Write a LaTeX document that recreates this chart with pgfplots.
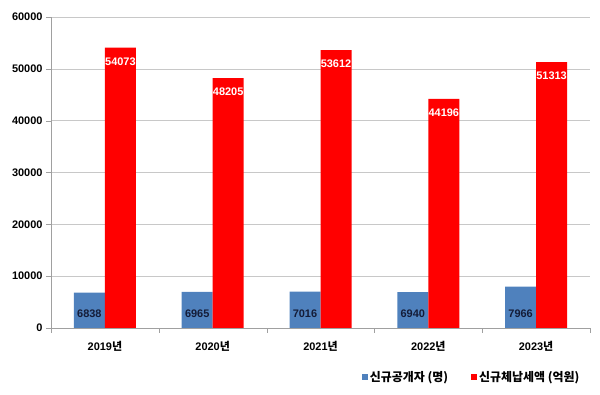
\documentclass[border=0pt]{standalone}
\usepackage{fontspec}
\setmainfont{Liberation Sans}
\newfontfamily\kr{Noto Sans CJK KR}
\usepackage{pgfplots}
\pgfplotsset{compat=1.18}
\definecolor{cblue}{RGB}{79,129,189}
\definecolor{cred}{RGB}{255,0,0}
\definecolor{lblnavy}{RGB}{20,28,56}
\definecolor{axgray}{RGB}{160,160,160}
\definecolor{gridgray}{RGB}{200,200,200}
\begin{document}
\begin{tikzpicture}
\path[use as bounding box] (0,0) rectangle (600bp,395bp);
\begin{axis}[
  at={(51bp,67bp)}, anchor=south west,
  scale only axis, width=539bp, height=311bp,
  ymin=0, ymax=60000, ytick={0,10000,...,60000},
  scaled y ticks=false,
  /pgf/number format/1000 sep={},
  /pgf/number format/assume math mode=true,
  xmin=-0.5, xmax=4.5, xtick={0,...,4},
  xticklabels={2019{\kr 년},2020{\kr 년},2021{\kr 년},2022{\kr 년},2023{\kr 년}},
  minor xtick={-0.5,0.5,...,4.5},
  every major x tick/.append style={draw=none},
  tick align=outside,
  major tick length=5bp, minor tick length=5bp,
  axis x line*=bottom, axis y line*=left,
  axis line style={draw=axgray, -},
  tick style={draw=axgray},
  ymajorgrids, grid style={draw=gridgray},
  ticklabel style={font=\bfseries\fontsize{11}{13}\selectfont},
  xticklabel style={yshift=-5bp},
  ybar=0pt, bar width=31bp,
  legend style={draw=none, fill=none, at={(0.99,-0.158)}, anchor=east, legend columns=2,
    font=\kr\bfseries\fontsize{12}{14}\selectfont,
    /tikz/every even column/.append style={column sep=21bp}},
]
\addplot[fill=cblue, draw=none,
  legend image code/.code={\fill[cblue] (0bp,-3bp) rectangle (6bp,3bp);},
  nodes near coords,
  visualization depends on={rawy \as \ry},
  nodes near coords style={anchor=center, text=lblnavy, font=\bfseries\fontsize{11}{13}\selectfont,
    yshift={(14-\ry*0.00518333)*1bp}}]
  coordinates {(0,6838) (1,6965) (2,7016) (3,6940) (4,7966)};
\addlegendentry{신규공개자 (명)}
\addplot[fill=cred, draw=none,
  legend image code/.code={\fill[cred] (0bp,-3bp) rectangle (6bp,3bp);},
  nodes near coords,
  nodes near coords style={anchor=center, text=white, font=\bfseries\fontsize{11}{13}\selectfont,
    yshift=-14bp}]
  coordinates {(0,54073) (1,48205) (2,53612) (3,44196) (4,51313)};
\addlegendentry{신규체납세액 (억원)}
\end{axis}
\end{tikzpicture}
\end{document}
